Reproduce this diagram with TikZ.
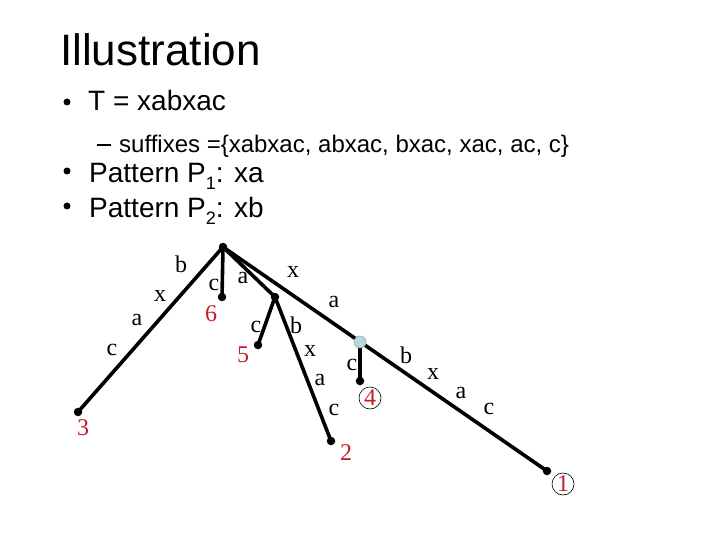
\documentclass[tikz,border=0pt]{standalone}
\usepackage{fontspec}
\setmainfont{Liberation Serif}
\newfontfamily\arialf{Liberation Sans}
\definecolor{numred}{RGB}{196,30,40}
\definecolor{nodeblue}{RGB}{180,218,222}
\newcommand{\mysub}[1]{\raisebox{-0.22em}{\fontsize{18}{18}\selectfont #1}}
\begin{document}
\begin{tikzpicture}[x=1pt,y=-1pt,
  edge/.style={line width=3.6pt},
  dotnode/.style={circle,fill=black,inner sep=0pt,minimum size=8.5pt},
  elab/.style={font=\fontsize{24}{24}\selectfont,inner sep=0pt},
  num/.style={font=\fontsize{24}{24}\selectfont,text=numred,inner sep=0pt},
  cnum/.style={num,draw=black,circle,line width=0.6pt,minimum size=22pt},
  sans/.style={font=\arialf,anchor=base west,inner sep=0pt}]
\useasboundingbox (0,0) rectangle (720,540);
% text
\node[sans,font=\arialf\fontsize{44}{44}\selectfont] (title) at (60,66) {Illustration};
\node[sans,font=\arialf\fontsize{28}{28}\selectfont] (b1) at (88,111) {T = xabxac};
\node[sans,font=\arialf\fontsize{24}{24}\selectfont] (b2) at (119,153) {suffixes =\{xabxac, abxac, bxac, xac, ac, c\}};
\node[sans,font=\arialf\fontsize{28}{28}\selectfont] (b3) at (89,183) {Pattern P\mysub{1}: xa};
\node[sans,font=\arialf\fontsize{28}{28}\selectfont] (b4) at (89,218) {Pattern P\mysub{2}: xb};
\fill (67,102) circle (3.5pt);
\fill (67,171) circle (3.5pt);
\fill (67,206) circle (3.5pt);
\draw[line width=1.6pt] (97,145) -- (111,145);
% tree nodes
\coordinate (root) at (223,247);
\coordinate (l3) at (78,412);
\coordinate (l6) at (222,297);
\coordinate (na) at (275,297);
\coordinate (l5) at (258,345);
\coordinate (l2) at (331,441);
\coordinate (nb) at (360,342);
\coordinate (l4) at (360,381);
\coordinate (l1) at (547,471);
\draw[edge] (root) -- (l3);
\draw[edge] (root) -- (l6);
\draw[edge] (root) -- (na);
\draw[edge] (na) -- (l5);
\draw[edge] (na) -- (l2);
\draw[edge] (root) -- (l1);
\draw[edge] (nb) -- (l4);
\foreach \p in {root,l3,l6,na,l5,l2,l4,l1} \node[dotnode] (d\p) at (\p) {};
\node[circle,fill=nodeblue,draw=gray!70,line width=0.6pt,inner sep=0pt,minimum size=12pt] (blue) at (nb) {};
% edge labels
\node[elab] (e1) at (181,264) {b};
\node[elab] (e2) at (160,296) {x};
\node[elab] (e3) at (137,320) {a};
\node[elab] (e4) at (112,350) {c};
\node[elab] (e5) at (214,285) {c};
\node[elab] (e6) at (243,278) {a};
\node[elab] (e7) at (256,327) {c};
\node[elab] (e8) at (296,325) {b};
\node[elab] (e9) at (310,351) {x};
\node[elab] (e10) at (320,380) {a};
\node[elab] (e11) at (334,410) {c};
\node[elab] (e12) at (293,272) {x};
\node[elab] (e13) at (334,302) {a};
\node[elab] (e14) at (352,365) {c};
\node[elab] (e15) at (406,355) {b};
\node[elab] (e16) at (433,374) {x};
\node[elab] (e17) at (461,393) {a};
\node[elab] (e18) at (489,409) {c};
% leaf numbers
\node[num] (n3) at (83,428) {3};
\node[num] (n6) at (211,314) {6};
\node[num] (n5) at (243,355) {5};
\node[num] (n2) at (346,453) {2};
\node[cnum] (n4) at (370,398) {4};
\node[cnum] (n1) at (563,484) {1};
\end{tikzpicture}
\end{document}
